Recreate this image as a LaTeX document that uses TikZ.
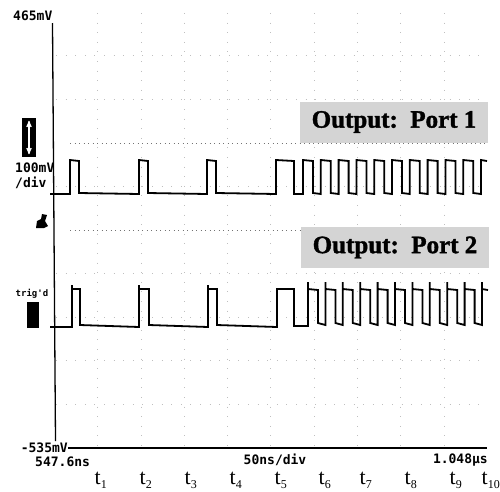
\documentclass[tikz,border=0pt]{standalone}
\usepackage{fontspec}
\usepackage{tikz}
\usetikzlibrary{arrows}
\newfontfamily\scopefont{DejaVu Sans Mono}
\newfontfamily\labelfont{Liberation Serif}[BoldFeatures={FakeBold=1.5}]
\newcommand{\tmark}[1]{t\raisebox{-4pt}{\fontsize{12}{12}\selectfont #1}}

\begin{document}
\begin{tikzpicture}[x=1pt,y=-1pt,>=stealth',
  trace/.style={line width=1.8pt,line join=miter},
  grid/.style={black!25,line width=0.6pt,dash pattern=on 0.6pt off 9pt},
  gridrow/.style={black!55,line width=0.7pt,dash pattern=on 1pt off 3.5pt},
  readout/.style={font=\scopefont\bfseries\fontsize{13}{13}\selectfont,inner sep=0pt},
  banner/.style={fill=black!17,minimum width=188pt,minimum height=41pt,inner sep=0pt,
    font=\labelfont\bfseries\fontsize{25}{25}\selectfont},
  tlabel/.style={font=\labelfont\fontsize{22}{22}\selectfont,inner sep=0pt,anchor=base west}]

\useasboundingbox (0,0) rectangle (500,491);

\foreach \y in {55,99,186,273,317,360,404} \draw[grid] (56,\y) -- (487,\y);
\foreach \y in {143,230} \draw[gridrow] (70,\y) -- (487,\y);
\foreach \x in {97,141,184,227,270,314,357,400,444} \draw[grid] (\x,13) -- (\x,447);

\node[banner] (port1) at (394,122) {Output:\enspace Port 1};
\node[banner] (port2) at (395,247.5) {Output:\enspace Port 2};

\node[readout,anchor=west] (top) at (13,16) {465mV};
\node[readout,anchor=west] (scale) at (15,168) {100mV};
\node[readout,anchor=west] (perdiv) at (15,183) {/div};
\node[readout,anchor=east] (bottom) at (68,448) {-535mV};
\node[readout,anchor=west] (start) at (35,462) {547.6ns};
\node[readout] (timebase) at (275,460) {50ns/div};
\node[readout,anchor=east] (stop) at (488,460) {1.048µs};
\node[readout,font=\scopefont\bfseries\fontsize{9}{9}\selectfont] (trig) at (32,294) {trig'd};

\node[fill=black,minimum width=14pt,minimum height=39pt,inner sep=0pt] (vbox) at (29,137.5) {};
\draw[white,<->,line width=1.2pt] ([yshift=-3pt]vbox.north) -- ([yshift=3pt]vbox.south);
\node[fill=black,minimum width=12pt,minimum height=26pt,inner sep=0pt] (tbox) at (33,315) {};
\fill (36,228) -- (37,221) -- (41,219) -- (42,214) -- (47,215) -- (45,221) -- (48,226) -- (44,228) -- cycle;

\draw[line width=1.3pt] (52.5,23) -- (55.5,441);
\draw[line width=2pt] (bottom.east) -- (487,448);

\draw[trace] (50,194)
  foreach \x in {70,139,207} { -- (\x,194) -- (\x,160) -- ({\x+9},161) -- ({\x+9},193) }
  -- (276,194) -- (276,160) -- (294,161) -- (294,194) -- (303,194)
  foreach \k in {0,...,9} { -- ({303+17.8*\k},160) -- ({313+17.8*\k},161)
    -- ({313+17.8*\k},193) -- ({320.8+17.8*\k},194) }
  -- (481,160) -- (487,161);

\draw[trace] (50,327)
  foreach \x/\w in {72/8,139/10,208/9} { -- (\x,327) -- (\x,285) -- (\x,289)
    -- ({\x+\w},289) -- ({\x+\w},325) }
  -- (277,327) -- (277,289) -- (294,289) -- (294,326) -- (308,326)
  foreach \k in {0,...,9} { -- ({308+17.4*\k},282) -- ({308+17.4*\k},289)
    -- ({318+17.4*\k},290) -- ({318+17.4*\k},323) -- ({325.4+17.4*\k},325) }
  -- (482,282) -- (482,289) -- (488,290);

\foreach \x [count=\i] in {98,143,188,233,278,322,363,408,453,485}
  \node[tlabel] (t\i) at ({\x-3.5},484) {\tmark{\i}};
\end{tikzpicture}
\end{document}
